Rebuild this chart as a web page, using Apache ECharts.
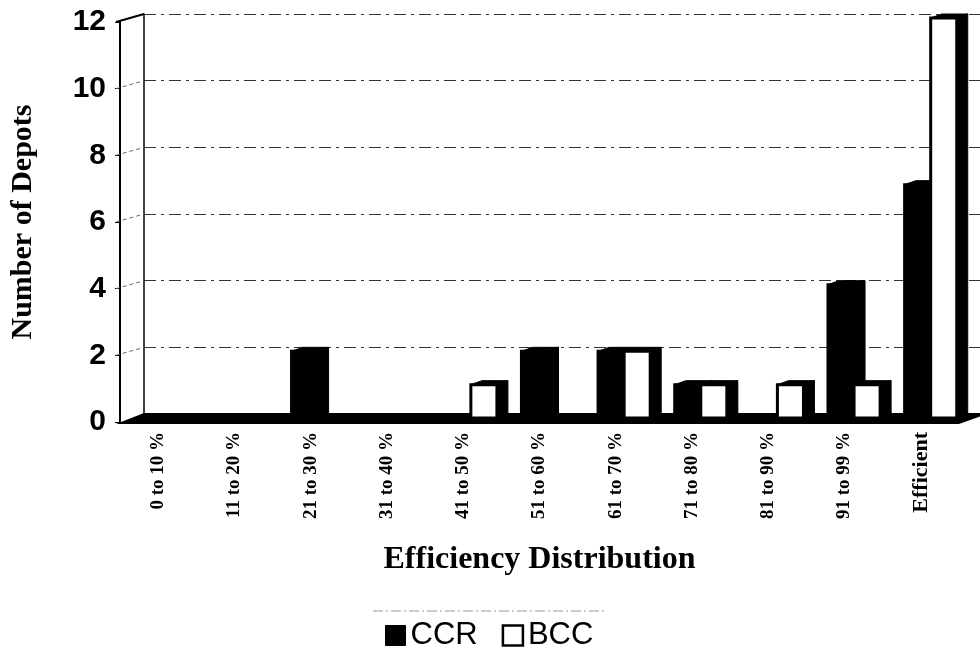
<!DOCTYPE html>
<html>
<head>
<meta charset="utf-8">
<script src="https://cdn.jsdelivr.net/npm/echarts/dist/echarts.min.js"></script>
<style>html,body{margin:0;padding:0;background:#fff}#c{width:980px;height:649px}</style>
</head>
<body>
<div id="c"></div>
<script>
// ---- data ----
const categories = ['0 to 10 %','11 to 20 %','21 to 30 %','31 to 40 %','41 to 50 %','51 to 60 %','61 to 70 %','71 to 80 %','81 to 90 %','91 to 99 %','Efficient'];
const ccrValues = [0,0,2,0,0,2,2,1,0,4,7];
const bccValues = [0,0,0,0,1,0,2,1,1,1,12];
const seriesNames = ['CCR','BCC'];
const yMin = 0, yMax = 12, yStep = 2;
const xTitle = 'Efficiency Distribution';
const yTitle = 'Number of Depots';

// ---- layout ----
const FRONT = {left:116, top:22, width:843, height:400};
const DX = 28, DY = -8;
const BACK = {left:FRONT.left+DX, top:FRONT.top+DY, width:FRONT.width, height:FRONT.height};
const MID = {left:126, top:18, width:843, height:400};
const BAR_DX = 11, BAR_DY = -4;

const chart = echarts.init(document.getElementById('c'));

function makeRender(sIdx, fill){
  return function(params, api){
    const cat = api.value(0), v = api.value(1);
    if (!v) return {type:'group', children:[]};
    const base = api.coord([cat, 0]);
    const top = api.coord([cat, v]);
    const w = api.size([1,0])[0]*0.34;
    const x0 = sIdx === 0 ? base[0]-w : base[0];
    const x1 = x0 + w;
    const yb = base[1], yt = top[1];
    return {type:'group', children:[
      {type:'polygon', shape:{points:[[x1,yb],[x1+BAR_DX,yb+BAR_DY],[x1+BAR_DX,yt+BAR_DY],[x1,yt]]}, style:{fill:'#000', stroke:'#000', lineWidth:1}},
      {type:'polygon', shape:{points:[[x0,yt],[x0+BAR_DX,yt+BAR_DY],[x1+BAR_DX,yt+BAR_DY],[x1,yt]]}, style:{fill:'#000', stroke:'#000', lineWidth:1}},
      {type:'rect', shape:{x:x0, y:yt, width:w, height:yb-yt}, style:{fill:fill, stroke:'#000', lineWidth:3}}
    ]};
  };
}

const option = {
  animation:false,
  backgroundColor:'#fff',
  grid:[
    {left:FRONT.left, top:FRONT.top, width:FRONT.width, height:FRONT.height},
    {left:BACK.left, top:BACK.top, width:BACK.width, height:BACK.height},
    {left:MID.left, top:MID.top, width:MID.width, height:MID.height}
  ],
  xAxis:[
    {gridIndex:0, type:'category', data:categories, axisLine:{show:false}, axisTick:{show:false},
     axisLabel:{rotate:90, margin:10, fontFamily:'Liberation Serif', fontWeight:'bold', fontSize:19, color:'#000',
       formatter: v => v === categories[categories.length-1] ? '{e|' + v + '}' : v,
       rich:{e:{fontFamily:'Liberation Serif', fontWeight:'bold', fontSize:22, color:'#000'}}},
     name:xTitle, nameLocation:'middle', nameGap:122,
     nameTextStyle:{fontFamily:'Liberation Serif', fontWeight:'bold', fontSize:32, color:'#000'}},
    {gridIndex:1, type:'category', data:categories, position:'top', axisLine:{show:true, lineStyle:{color:'#000', width:2}},
     axisTick:{show:false}, axisLabel:{show:false}},
    {gridIndex:2, type:'category', data:categories, show:false}
  ],
  yAxis:[
    {gridIndex:0, type:'value', min:yMin, max:yMax, interval:yStep,
     axisLine:{show:true, lineStyle:{color:'#000', width:2}},
     axisTick:{show:true, length:5, lineStyle:{color:'#000', width:1}},
     axisLabel:{margin:14, fontFamily:'Liberation Sans', fontWeight:'bold', fontSize:30, color:'#000'},
     splitLine:{show:false},
     name:yTitle, nameLocation:'middle', nameGap:82, nameRotate:90,
     nameTextStyle:{fontFamily:'Liberation Serif', fontWeight:'bold', fontSize:30, color:'#000'}},
    {gridIndex:1, type:'value', min:yMin, max:yMax, interval:yStep,
     axisLine:{show:true, lineStyle:{color:'#000', width:1.5}},
     axisTick:{show:false}, axisLabel:{show:false},
     splitLine:{show:true, lineStyle:{color:'#333', width:1, type:[12,5,3,5]}}},
    {gridIndex:2, type:'value', min:yMin, max:yMax, interval:yStep, show:false, splitLine:{show:false}}
  ],
  legend:{
    left:380, top:615, itemWidth:20, itemHeight:20, itemGap:24, icon:'rect',
    textStyle:{fontFamily:'Liberation Sans', fontSize:31, color:'#000'},
    data:[
      {name:seriesNames[0], itemStyle:{color:'#000', borderColor:'#000', borderWidth:1}},
      {name:seriesNames[1], itemStyle:{color:'#fff', borderColor:'#000', borderWidth:2.5}}
    ]
  },
  series:[
    {name:seriesNames[0], type:'custom', xAxisIndex:2, yAxisIndex:2, z:10,
     itemStyle:{color:'#000'}, renderItem:makeRender(0,'#000'),
     encode:{x:0, y:1}, data:ccrValues.map((v,i)=>[i,v])},
    {name:seriesNames[1], type:'custom', xAxisIndex:2, yAxisIndex:2, z:11,
     itemStyle:{color:'#fff', borderColor:'#000'}, renderItem:makeRender(1,'#fff'),
     encode:{x:0, y:1}, data:bccValues.map((v,i)=>[i,v])}
  ]
};
chart.setOption(option);

// ---- 3D frame decorations (floor, side wall) ----
const yF = v => chart.convertToPixel({yAxisIndex:0}, v);
const yB = v => chart.convertToPixel({yAxisIndex:1}, v);
const xFl = FRONT.left, xFr = FRONT.left+FRONT.width;
const xBl = BACK.left, xBr = BACK.left+BACK.width;
const graphics = [];
graphics.push({type:'polygon', z:5, shape:{points:[[xFl,yF(yMin)+2],[xFr,yF(yMin)+2],[xBr,yB(yMin)],[xBl,yB(yMin)-1]]}, style:{fill:'#000'}});
graphics.push({type:'line', z:5, shape:{x1:xFl, y1:yF(yMax), x2:xBl, y2:yB(yMax)}, style:{stroke:'#000', lineWidth:2}});
for (let v = yMin+yStep; v < yMax; v += yStep){
  graphics.push({type:'line', z:4, shape:{x1:xFl, y1:yF(v), x2:xBl, y2:yB(v)}, style:{stroke:'#666', lineWidth:1, lineDash:[4,3]}});
}
graphics.push({type:'line', z:4, shape:{x1:373, y1:611, x2:607, y2:611}, style:{stroke:'#999', lineWidth:1, lineDash:[10,3,2,3]}});
chart.setOption({graphic:graphics});
</script>
</body>
</html>
